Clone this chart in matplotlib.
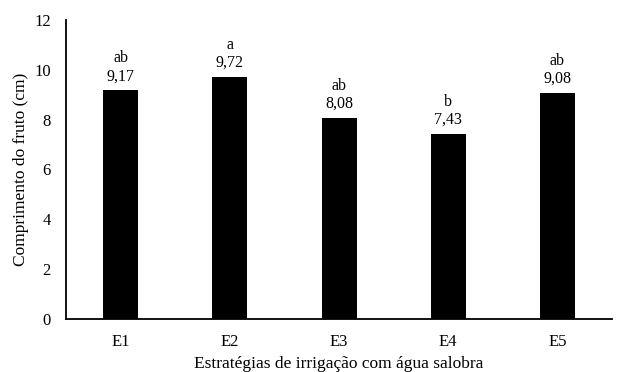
import matplotlib.pyplot as plt

estrategias = ["E1", "E2", "E3", "E4", "E5"]
comprimento = [9.17, 9.72, 8.08, 7.43, 9.08]
letras = ["ab", "a", "ab", "b", "ab"]


def main():
    plt.rcParams["font.family"] = ["Liberation Serif", "DejaVu Serif"]

    fig = plt.figure(figsize=(6.17, 3.72), dpi=100)
    ax = fig.add_axes([0.107, 0.1425, 0.885, 0.804])

    x = range(len(estrategias))
    ax.bar(x, comprimento, width=0.32, color="black")

    for xi, v, letra in zip(x, comprimento, letras):
        ax.text(xi, v + 0.25, f"{letra}\n{v:.2f}".replace(".", ","),
                ha="center", va="bottom", fontsize=11.5, linespacing=1.15)

    ax.set_xlim(-0.5, 4.5)
    ax.set_ylim(0, 12)
    ax.set_yticks(range(0, 13, 2))
    ax.set_xticks(list(x))
    ax.set_xticklabels(estrategias)
    ax.tick_params(length=0, labelsize=12, pad=11)
    ax.tick_params(axis="y", pad=11)

    for s in ["top", "right"]:
        ax.spines[s].set_visible(False)
    ax.spines["left"].set_linewidth(1.3)
    ax.spines["bottom"].set_linewidth(1.3)

    ax.set_xlabel("Estratégias de irrigação com água salobra", fontsize=12.5, labelpad=4)
    ax.set_ylabel("Comprimento do fruto (cm)", fontsize=12.5, labelpad=4)

    plt.savefig("out.png", dpi=100)
    plt.close()


if __name__ == "__main__":
    main()
